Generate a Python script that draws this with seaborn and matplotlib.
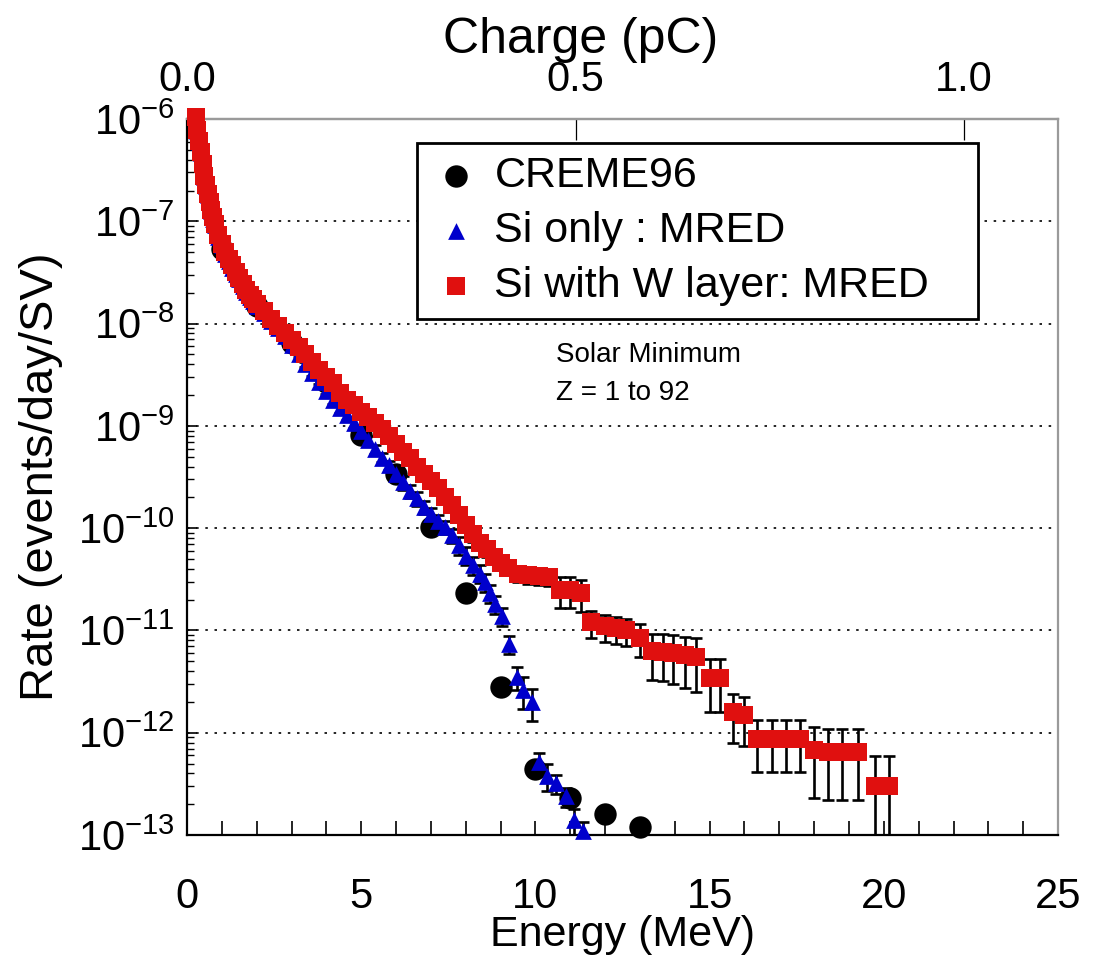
import matplotlib
matplotlib.use("Agg")
import matplotlib.pyplot as plt
import seaborn as sns
import numpy as np
from matplotlib.ticker import FixedLocator, MultipleLocator, LogLocator, NullFormatter, FormatStrFormatter

# DATA
creme_energy = [1, 2, 3, 4, 5, 6, 7, 8, 9, 10, 11, 12, 13]
creme_rate = [5.4e-8, 1.5e-8, 6.4e-9, 2.7e-9, 8.1e-10, 3.4e-10, 1.02e-10, 2.3e-11,
              2.8e-12, 4.4e-13, 2.3e-13, 1.6e-13, 1.2e-13]

blue_energy = [0.25, 0.30, 0.35, 0.40, 0.45, 0.50, 0.55, 0.60, 0.65, 0.70, 0.75, 0.80,
               0.90, 1.00, 1.10, 1.20, 1.30, 1.40, 1.50, 1.60, 1.70, 1.80, 1.90, 2.00,
               2.20, 2.40, 2.60, 2.80, 3.00, 3.20, 3.40, 3.60, 3.80, 4.00,
               4.20, 4.40, 4.60, 4.80, 5.00, 5.20, 5.40, 5.60, 5.80, 6.00,
               6.20, 6.40, 6.60, 6.80, 7.00, 7.20, 7.40, 7.60,
               7.80, 8.00, 8.20, 8.40, 8.55, 8.70, 8.85, 9.05,
               9.24, 9.47, 9.64, 9.90,
               10.10, 10.33, 10.58, 10.87, 11.10, 11.37]
blue_rate = [1.0e-6, 7.7e-7, 6.0e-7, 4.7e-7, 3.5e-7, 2.7e-7, 2.2e-7, 1.8e-7, 1.5e-7, 1.25e-7, 1.06e-7, 9.2e-8,
             7.1e-8, 5.8e-8, 4.8e-8, 4.1e-8, 3.5e-8, 3.05e-8, 2.7e-8, 2.35e-8, 2.05e-8, 1.82e-8, 1.65e-8, 1.5e-8,
             1.26e-8, 1.07e-8, 9.0e-9, 7.5e-9, 6.2e-9, 5.0e-9, 4.0e-9, 3.3e-9, 2.7e-9, 2.2e-9,
             1.8e-9, 1.5e-9, 1.27e-9, 1.07e-9, 8.9e-10, 7.2e-10, 5.9e-10, 4.9e-10, 4.1e-10, 3.4e-10,
             2.8e-10, 2.3e-10, 1.95e-10, 1.6e-10, 1.38e-10, 1.17e-10, 1.02e-10, 8.5e-11,
             6.8e-11, 5.4e-11, 4.4e-11, 3.6e-11, 2.95e-11, 2.3e-11, 1.8e-11, 1.38e-11,
             7.4e-12, 3.5e-12, 2.6e-12, 2.0e-12,
             5.2e-13, 3.8e-13, 3.2e-13, 2.4e-13, 1.4e-13, 1.1e-13]
blue_relerr = [0.02, 0.02, 0.02, 0.02, 0.02, 0.02, 0.02, 0.02, 0.02, 0.02, 0.02, 0.02,
               0.03, 0.03, 0.03, 0.03, 0.03, 0.03, 0.03, 0.03, 0.03, 0.03, 0.03, 0.03,
               0.06, 0.06, 0.06, 0.06, 0.06, 0.06, 0.06, 0.06, 0.06, 0.06,
               0.10, 0.10, 0.10, 0.10, 0.10, 0.10, 0.10, 0.10, 0.10, 0.10,
               0.15, 0.15, 0.15, 0.15, 0.15, 0.15, 0.15, 0.15,
               0.20, 0.20, 0.20, 0.20, 0.20, 0.20, 0.20, 0.20,
               0.20, 0.25, 0.35, 0.35,
               0.21, 0.29, 0.22, 0.21, 0.29, 0.23]

red_energy = [0.25, 0.30, 0.35, 0.40, 0.45, 0.50, 0.55, 0.60, 0.65, 0.70, 0.75, 0.80,
              0.90, 1.00, 1.10, 1.20, 1.30, 1.40, 1.50, 1.60, 1.70, 1.80, 1.90, 2.00,
              2.20, 2.40, 2.60, 2.80, 3.00, 3.20, 3.40, 3.60, 3.80, 4.00,
              4.20, 4.40, 4.60, 4.80, 5.00, 5.20, 5.40, 5.60, 5.80, 6.00,
              6.20, 6.40, 6.60, 6.80, 7.00, 7.20, 7.40, 7.60,
              7.80, 8.00, 8.20, 8.40, 8.60, 8.80, 9.00, 9.20,
              9.50, 9.80, 10.10, 10.40,
              10.70, 11.00, 11.30,
              11.60, 12.00, 12.30, 12.60,
              13.00, 13.35, 13.65, 13.95, 14.30, 14.60,
              15.00, 15.30, 15.67, 16.00,
              16.35, 16.80, 17.20, 17.60,
              18.00, 18.40, 18.80, 19.25,
              19.75, 20.15]
red_rate = [1.05e-6, 7.8e-7, 6.1e-7, 4.8e-7, 3.6e-7, 2.8e-7, 2.25e-7, 1.85e-7, 1.55e-7, 1.3e-7, 1.1e-7, 9.5e-8,
            7.4e-8, 6.0e-8, 5.0e-8, 4.3e-8, 3.7e-8, 3.2e-8, 2.8e-8, 2.45e-8, 2.15e-8, 1.9e-8, 1.72e-8, 1.55e-8,
            1.32e-8, 1.12e-8, 9.5e-9, 8.1e-9, 6.9e-9, 5.9e-9, 5.0e-9, 4.2e-9, 3.5e-9, 3.0e-9,
            2.6e-9, 2.1e-9, 1.8e-9, 1.6e-9, 1.38e-9, 1.23e-9, 1.07e-9, 9.3e-10, 7.9e-10, 6.6e-10,
            5.6e-10, 4.8e-10, 4.0e-10, 3.4e-10, 2.9e-10, 2.45e-10, 2.0e-10, 1.7e-10,
            1.35e-10, 1.07e-10, 8.7e-11, 7.2e-11, 6.2e-11, 5.2e-11, 4.6e-11, 4.1e-11,
            3.6e-11, 3.5e-11, 3.4e-11, 3.3e-11,
            2.5e-11, 2.5e-11, 2.3e-11,
            1.2e-11, 1.1e-11, 1.05e-11, 1.0e-11,
            8.5e-12, 6.3e-12, 6.2e-12, 6.0e-12, 5.7e-12, 5.5e-12,
            3.4e-12, 3.4e-12, 1.6e-12, 1.5e-12,
            8.7e-13, 8.7e-13, 8.7e-13, 8.7e-13,
            6.8e-13, 6.5e-13, 6.5e-13, 6.5e-13,
            3.0e-13, 3.0e-13]
red_relerr = [0.02, 0.02, 0.02, 0.02, 0.02, 0.02, 0.02, 0.02, 0.02, 0.02, 0.02, 0.02,
              0.03, 0.03, 0.03, 0.03, 0.03, 0.03, 0.03, 0.03, 0.03, 0.03, 0.03, 0.03,
              0.05, 0.05, 0.05, 0.05, 0.05, 0.05, 0.05, 0.05, 0.05, 0.05,
              0.08, 0.08, 0.08, 0.08, 0.08, 0.08, 0.08, 0.08, 0.08, 0.08,
              0.12, 0.12, 0.12, 0.12, 0.12, 0.12, 0.12, 0.12,
              0.15, 0.15, 0.15, 0.15, 0.15, 0.15, 0.15, 0.15,
              0.18, 0.18, 0.18, 0.18,
              0.34, 0.34, 0.34,
              0.30, 0.30, 0.30, 0.30,
              0.35, 0.48, 0.48, 0.50, 0.52, 0.55,
              0.53, 0.53, 0.50, 0.50,
              0.53, 0.53, 0.53, 0.53,
              0.66, 0.66, 0.66, 0.66,
              0.97, 0.97]

labels = ['CREME96', 'Si only : MRED', 'Si with W layer: MRED']
MEV_PER_PC = 22.3  # deposited energy in Si per pC of collected charge

sns.set_style("ticks")
plt.rcParams['font.family'] = ['Liberation Sans', 'DejaVu Sans']
plt.rcParams['mathtext.default'] = 'regular'
plt.rcParams['text.color'] = 'black'
plt.rcParams['axes.labelcolor'] = 'black'
plt.rcParams['xtick.color'] = 'black'
plt.rcParams['ytick.color'] = 'black'

fig = plt.figure(figsize=(10.97, 9.66), dpi=100)
ax = fig.add_axes([0.1705, 0.1356, 0.7940, 0.7412])

red_col = '#e0100f'
blue_col = '#0000cc'

# CREME96 circles at the bottom
sns.scatterplot(x=creme_energy, y=creme_rate, ax=ax, marker='o', color='black', s=260,
                linewidth=0, label=labels[0], zorder=3, clip_on=False)

# Si only
blue_err = np.array(blue_rate) * np.array(blue_relerr)
ax.errorbar(blue_energy, blue_rate, yerr=blue_err, fmt='none', ecolor='black',
            elinewidth=1.9, capsize=4.5, capthick=1.9, zorder=3.5)
sns.scatterplot(x=blue_energy, y=blue_rate, ax=ax, marker='^', color=blue_col, s=145,
                linewidth=0, label=labels[1], zorder=4, clip_on=False)

# Si with W layer
red_err = np.array(red_rate) * np.array(red_relerr)
ax.errorbar(red_energy, red_rate, yerr=red_err, fmt='none', ecolor='black',
            elinewidth=1.9, capsize=4.5, capthick=1.9, zorder=4.5)
sns.scatterplot(x=red_energy, y=red_rate, ax=ax, marker='s', color=red_col, s=170,
                linewidth=0, label=labels[2], zorder=5, clip_on=False)

ax.set_yscale('log')
ax.set_xlim(0, 25)
ax.set_ylim(1e-13, 1e-6)

# axes styling
ax.xaxis.set_major_locator(FixedLocator([0, 5, 10, 15, 20, 25]))
ax.xaxis.set_minor_locator(MultipleLocator(1))
ax.yaxis.set_major_locator(LogLocator(base=10, numticks=20))
ax.yaxis.set_minor_locator(LogLocator(base=10, subs=np.arange(2, 10), numticks=100))
ax.yaxis.set_minor_formatter(NullFormatter())
ax.tick_params(axis='x', which='both', direction='in', length=10, width=1.2,
               bottom=True, top=False, labelsize=30, pad=30)
ax.tick_params(axis='y', which='major', direction='in', length=7, width=1.2,
               left=True, right=False, labelsize=30, pad=9)
ax.tick_params(axis='y', which='minor', direction='in', length=5, width=1.0,
               left=True, right=False)
for side in ['left', 'bottom']:
    ax.spines[side].set_color('black')
    ax.spines[side].set_linewidth(1.6)
for side in ['top', 'right']:
    ax.spines[side].set_color('#9a9a9a')
    ax.spines[side].set_linewidth(1.6)

ax.set_axisbelow(True)
ax.yaxis.grid(True, which='major', color='black', linestyle=(0, (1.5, 4)), linewidth=1.2)
ax.xaxis.grid(False)

ax.set_xlabel('Energy (MeV)', fontsize=31)
ax.xaxis.set_label_coords(0.5, -0.112)
ax.set_ylabel('Rate (events/day/SV)', fontsize=34)
ax.yaxis.set_label_coords(-0.142, 0.5)

# charge axis on top
secax = ax.secondary_xaxis('top', functions=(lambda e: e / MEV_PER_PC, lambda q: q * MEV_PER_PC))
secax.set_xticks([0.0, 0.5, 1.0])
secax.xaxis.set_major_formatter(FormatStrFormatter('%.1f'))
secax.tick_params(axis='x', direction='in', length=15, width=0.9, labelsize=30, pad=14,
                  colors='black')
secax.spines['top'].set_color('#9a9a9a')
secax.spines['top'].set_linewidth(1.6)
secax.set_xlabel('Charge (pC)', fontsize=36, labelpad=5, color='black')
secax.xaxis.label.set_x(0.452)

# legend
leg = ax.legend(loc='upper left', bbox_to_anchor=(0.264, 0.7105, 0.644, 0.256), mode='expand',
                borderaxespad=0, fontsize=31, frameon=True, fancybox=False, framealpha=1,
                edgecolor='black', handlelength=1.2, handletextpad=0.3, borderpad=0.3,
                labelspacing=0.35)
leg.get_frame().set_linewidth(2)
leg.set_zorder(10)
for t in leg.get_texts():
    t.set_color('black')

ax.text(0.4237, 0.670, 'Solar Minimum', transform=ax.transAxes, fontsize=20, va='center', ha='left')
ax.text(0.4237, 0.617, 'Z = 1 to 92', transform=ax.transAxes, fontsize=20, va='center', ha='left')

plt.savefig('out.png', dpi=100)
